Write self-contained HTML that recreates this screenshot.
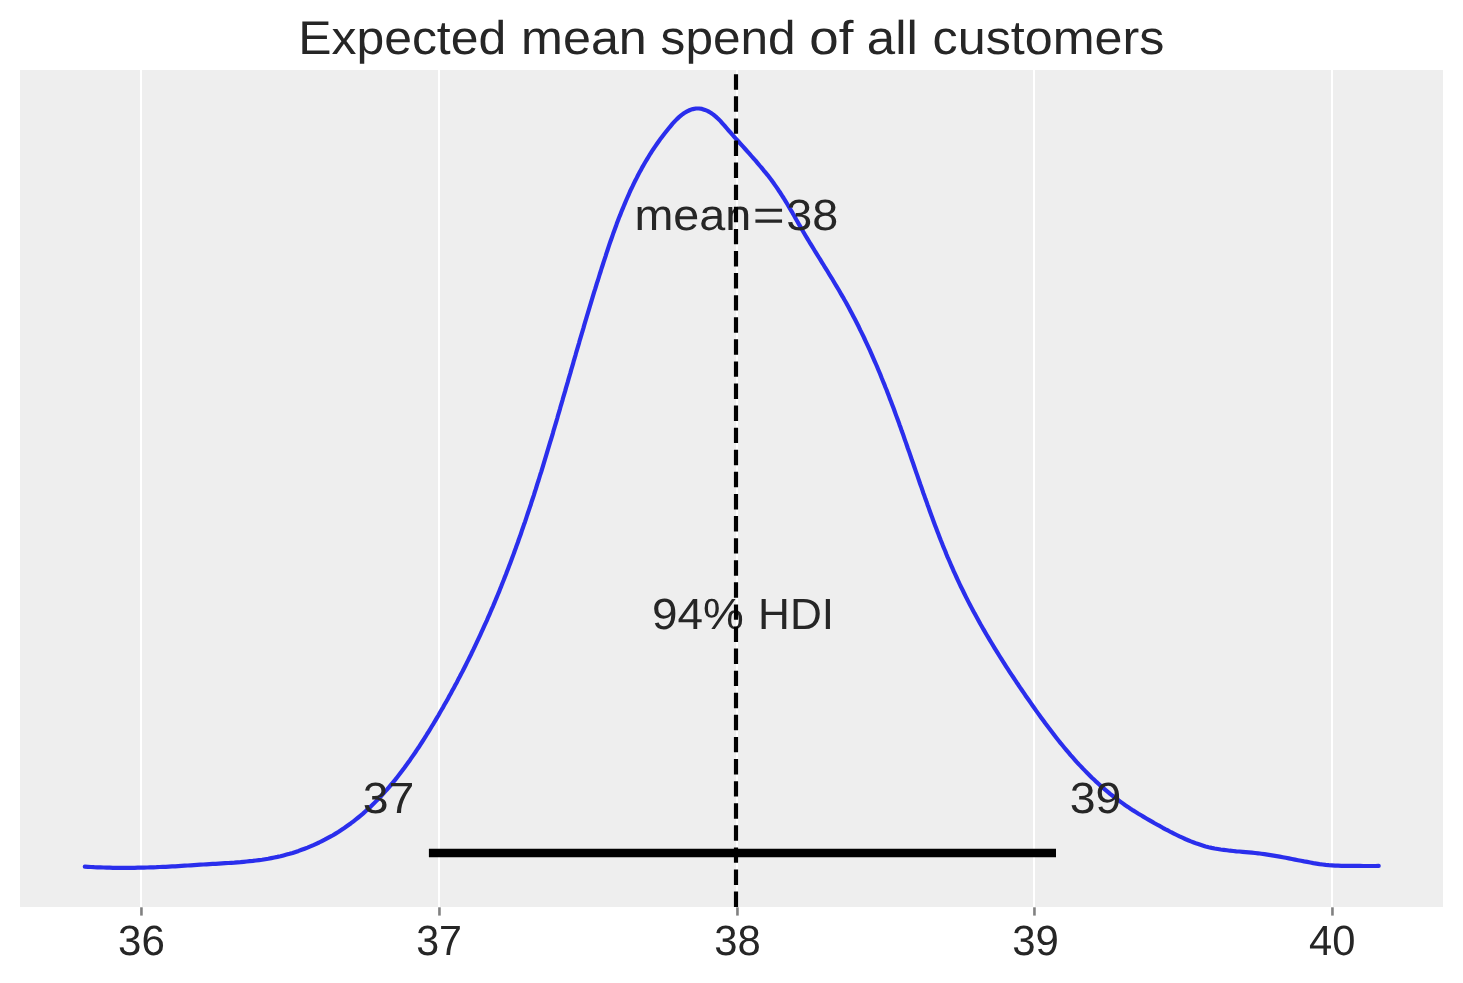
<!DOCTYPE html>
<html><head><meta charset="utf-8"><title>Expected mean spend of all customers</title><style>
html,body{margin:0;padding:0;background:#fff;width:1463px;height:983px;overflow:hidden}
svg{display:block;will-change:transform}
text{font-family:"Liberation Sans",sans-serif;fill:#262626;text-rendering:geometricPrecision}
</style></head><body>
<svg width="1463" height="983" viewBox="0 0 1463 983">
<rect x="0" y="0" width="1463" height="983" fill="#fff"/>
<rect x="20" y="70" width="1423" height="837" fill="#eeeeee"/>
<line x1="141" y1="70" x2="141" y2="907" stroke="#fff" stroke-width="2.0"/><line x1="439" y1="70" x2="439" y2="907" stroke="#fff" stroke-width="2.0"/><line x1="737" y1="70" x2="737" y2="907" stroke="#fff" stroke-width="2.0"/><line x1="1034" y1="70" x2="1034" y2="907" stroke="#fff" stroke-width="2.0"/><line x1="1332" y1="70" x2="1332" y2="907" stroke="#fff" stroke-width="2.0"/>
<line x1="141.45" y1="907.3" x2="141.45" y2="915.6" stroke="#808080" stroke-width="2.6"/><line x1="439.45" y1="907.3" x2="439.45" y2="915.6" stroke="#808080" stroke-width="2.6"/><line x1="737.45" y1="907.3" x2="737.45" y2="915.6" stroke="#808080" stroke-width="2.6"/><line x1="1034.45" y1="907.3" x2="1034.45" y2="915.6" stroke="#808080" stroke-width="2.6"/><line x1="1332.45" y1="907.3" x2="1332.45" y2="915.6" stroke="#808080" stroke-width="2.6"/>
<text font-size="42.3" transform="translate(118.12 954.9) scale(0.9952 1)">36</text><text font-size="42.3" transform="translate(416.16 954.9) scale(0.9738 1)">37</text><text font-size="42.3" transform="translate(714.13 954.9) scale(0.9883 1)">38</text><text font-size="42.3" transform="translate(1012.13 954.9) scale(0.991 1)">39</text><text font-size="42.3" transform="translate(1309.03 954.9) scale(0.9849 1)">40</text>
<path d="M84.8,866.6 L87.9,866.8 L91.0,867.0 L94.2,867.2 L97.3,867.3 L100.4,867.4 L103.5,867.5 L106.6,867.6 L109.8,867.7 L112.9,867.8 L116.0,867.8 L119.1,867.9 L122.2,867.9 L125.3,867.9 L128.4,867.9 L131.6,867.8 L134.7,867.8 L137.8,867.7 L140.9,867.7 L144.0,867.6 L147.1,867.5 L150.2,867.4 L153.4,867.3 L156.5,867.2 L159.6,867.0 L162.7,866.9 L165.8,866.8 L169.0,866.6 L172.1,866.4 L175.2,866.3 L178.3,866.1 L181.4,865.9 L184.6,865.7 L187.7,865.5 L190.8,865.3 L193.9,865.1 L197.1,864.9 L200.2,864.7 L203.3,864.5 L206.4,864.3 L209.5,864.1 L212.6,863.9 L215.7,863.8 L218.8,863.6 L222.0,863.4 L225.1,863.2 L228.2,863.0 L231.3,862.8 L234.4,862.6 L237.5,862.3 L240.5,862.1 L243.6,861.8 L246.7,861.5 L249.8,861.2 L252.9,860.9 L256.0,860.5 L259.0,860.1 L262.1,859.7 L265.2,859.2 L268.2,858.7 L271.3,858.1 L274.4,857.5 L277.4,856.9 L280.5,856.2 L283.5,855.4 L286.6,854.6 L289.6,853.8 L292.6,852.9 L295.6,851.9 L298.6,850.9 L301.6,849.8 L304.6,848.7 L307.5,847.6 L310.4,846.4 L313.4,845.1 L316.2,843.8 L319.1,842.5 L321.9,841.1 L324.7,839.7 L327.5,838.2 L330.3,836.7 L333.0,835.2 L335.6,833.6 L338.3,832.0 L340.9,830.3 L343.5,828.6 L346.0,826.8 L348.5,825.0 L351.0,823.2 L353.5,821.3 L355.9,819.4 L358.3,817.5 L360.6,815.6 L363.0,813.6 L365.3,811.5 L367.5,809.5 L369.8,807.4 L372.0,805.3 L374.2,803.1 L376.4,800.9 L378.5,798.7 L380.7,796.5 L382.8,794.2 L384.8,791.9 L386.9,789.6 L388.9,787.3 L390.9,784.9 L392.9,782.5 L394.9,780.1 L396.8,777.7 L398.7,775.3 L400.6,772.8 L402.5,770.3 L404.4,767.8 L406.2,765.3 L408.0,762.8 L409.9,760.2 L411.6,757.7 L413.4,755.1 L415.2,752.5 L416.9,749.9 L418.7,747.3 L420.4,744.6 L422.1,742.0 L423.8,739.4 L425.5,736.7 L427.1,734.0 L428.8,731.4 L430.4,728.7 L432.0,726.0 L433.7,723.3 L435.3,720.6 L436.9,717.9 L438.5,715.2 L440.0,712.5 L441.6,709.8 L443.2,707.1 L444.7,704.3 L446.3,701.6 L447.8,698.9 L449.3,696.1 L450.8,693.4 L452.3,690.6 L453.8,687.9 L455.3,685.1 L456.8,682.4 L458.2,679.6 L459.7,676.8 L461.1,674.0 L462.6,671.3 L464.0,668.5 L465.4,665.7 L466.8,662.9 L468.2,660.1 L469.6,657.3 L471.0,654.5 L472.3,651.7 L473.7,648.9 L475.0,646.1 L476.4,643.2 L477.7,640.4 L479.0,637.6 L480.3,634.8 L481.6,631.9 L482.9,629.1 L484.2,626.2 L485.5,623.4 L486.8,620.6 L488.0,617.7 L489.3,614.8 L490.5,612.0 L491.7,609.1 L493.0,606.3 L494.2,603.4 L495.4,600.5 L496.6,597.6 L497.8,594.8 L499.0,591.9 L500.1,589.0 L501.3,586.1 L502.4,583.2 L503.6,580.3 L504.7,577.4 L505.9,574.5 L507.0,571.6 L508.1,568.7 L509.2,565.8 L510.3,562.9 L511.4,560.0 L512.5,557.1 L513.6,554.1 L514.6,551.2 L515.7,548.3 L516.7,545.4 L517.8,542.5 L518.8,539.5 L519.9,536.6 L520.9,533.7 L521.9,530.7 L522.9,527.8 L523.9,524.8 L525.0,521.9 L526.0,518.9 L526.9,516.0 L527.9,513.0 L528.9,510.1 L529.9,507.1 L530.9,504.2 L531.8,501.2 L532.8,498.3 L533.8,495.3 L534.7,492.3 L535.7,489.4 L536.6,486.4 L537.5,483.4 L538.5,480.5 L539.4,477.5 L540.3,474.5 L541.3,471.6 L542.2,468.6 L543.1,465.6 L544.0,462.6 L544.9,459.6 L545.8,456.7 L546.7,453.7 L547.6,450.7 L548.5,447.7 L549.4,444.7 L550.3,441.7 L551.2,438.8 L552.1,435.8 L553.0,432.8 L553.8,429.8 L554.7,426.8 L555.6,423.8 L556.5,420.8 L557.4,417.8 L558.2,414.8 L559.1,411.8 L560.0,408.8 L560.8,405.8 L561.7,402.8 L562.6,399.8 L563.4,396.8 L564.3,393.9 L565.2,390.9 L566.0,387.9 L566.9,384.9 L567.8,381.9 L568.6,378.9 L569.5,375.9 L570.4,372.9 L571.2,369.9 L572.1,366.9 L573.0,363.9 L573.8,360.8 L574.7,357.8 L575.6,354.8 L576.4,351.8 L577.3,348.8 L578.2,345.8 L579.1,342.8 L579.9,339.8 L580.8,336.8 L581.7,333.8 L582.6,330.8 L583.5,327.9 L584.3,324.9 L585.2,321.9 L586.1,318.9 L587.0,315.9 L587.9,312.9 L588.8,309.9 L589.7,306.9 L590.6,303.9 L591.5,300.9 L592.4,297.9 L593.3,294.9 L594.2,291.9 L595.2,288.9 L596.1,285.9 L597.0,282.9 L598.0,280.0 L598.9,277.0 L599.8,274.0 L600.8,271.0 L601.7,268.0 L602.7,265.0 L603.6,262.1 L604.6,259.1 L605.6,256.1 L606.5,253.1 L607.5,250.2 L608.5,247.2 L609.5,244.2 L610.5,241.3 L611.6,238.3 L612.6,235.4 L613.6,232.4 L614.7,229.5 L615.8,226.6 L616.8,223.6 L617.9,220.7 L619.0,217.8 L620.2,214.9 L621.3,212.0 L622.5,209.1 L623.7,206.3 L624.9,203.4 L626.1,200.5 L627.3,197.7 L628.6,194.8 L629.8,192.0 L631.1,189.2 L632.5,186.4 L633.8,183.6 L635.2,180.8 L636.6,178.1 L638.0,175.3 L639.4,172.6 L640.9,169.9 L642.4,167.1 L643.9,164.5 L645.5,161.8 L647.1,159.1 L648.7,156.5 L650.3,153.8 L652.0,151.2 L653.7,148.6 L655.4,146.1 L657.2,143.5 L659.0,141.0 L660.8,138.4 L662.7,135.9 L664.6,133.5 L666.6,131.0 L668.6,128.5 L670.6,126.1 L672.6,123.7 L674.7,121.4 L676.9,119.1 L679.3,116.9 L681.7,114.9 L684.3,113.0 L687.1,111.4 L690.0,110.0 L692.9,109.1 L695.9,108.5 L699.0,108.5 L702.0,108.9 L705.0,109.9 L707.9,111.1 L710.7,112.7 L713.4,114.6 L715.8,116.6 L718.1,118.7 L720.3,120.9 L722.4,123.3 L724.5,125.6 L726.5,128.0 L728.5,130.3 L730.6,132.7 L732.6,135.0 L734.7,137.4 L736.8,139.7 L738.9,142.0 L741.0,144.4 L743.1,146.7 L745.2,149.0 L747.3,151.4 L749.4,153.7 L751.4,156.0 L753.5,158.4 L755.6,160.7 L757.6,163.1 L759.6,165.5 L761.7,167.9 L763.6,170.3 L765.6,172.7 L767.6,175.1 L769.5,177.6 L771.4,180.0 L773.2,182.5 L775.0,185.1 L776.8,187.6 L778.5,190.2 L780.3,192.8 L781.9,195.4 L783.6,198.0 L785.2,200.6 L786.8,203.3 L788.4,206.0 L790.0,208.7 L791.6,211.3 L793.1,214.0 L794.7,216.7 L796.2,219.5 L797.8,222.2 L799.3,224.9 L800.9,227.6 L802.4,230.3 L804.0,233.0 L805.6,235.7 L807.2,238.3 L808.8,241.0 L810.4,243.7 L812.1,246.4 L813.7,249.0 L815.3,251.7 L817.0,254.4 L818.6,257.0 L820.3,259.7 L821.9,262.3 L823.6,265.0 L825.2,267.7 L826.9,270.3 L828.5,273.0 L830.1,275.7 L831.8,278.3 L833.4,281.0 L835.0,283.7 L836.6,286.3 L838.2,289.0 L839.8,291.7 L841.3,294.4 L842.9,297.1 L844.4,299.8 L846.0,302.5 L847.5,305.3 L849.0,308.0 L850.4,310.7 L851.9,313.5 L853.3,316.2 L854.8,319.0 L856.2,321.7 L857.6,324.5 L859.0,327.3 L860.3,330.1 L861.7,332.9 L863.1,335.7 L864.4,338.5 L865.7,341.3 L867.0,344.1 L868.3,346.9 L869.6,349.7 L870.9,352.6 L872.1,355.4 L873.4,358.3 L874.6,361.1 L875.9,364.0 L877.1,366.8 L878.3,369.7 L879.5,372.5 L880.7,375.4 L881.8,378.3 L883.0,381.2 L884.2,384.1 L885.3,387.0 L886.5,389.8 L887.6,392.7 L888.7,395.6 L889.8,398.6 L891.0,401.5 L892.1,404.4 L893.2,407.3 L894.3,410.2 L895.3,413.1 L896.4,416.1 L897.5,419.0 L898.6,421.9 L899.6,424.9 L900.7,427.8 L901.7,430.8 L902.8,433.7 L903.8,436.7 L904.8,439.6 L905.9,442.6 L906.9,445.5 L907.9,448.5 L909.0,451.4 L910.0,454.4 L911.0,457.3 L912.0,460.3 L913.1,463.3 L914.1,466.2 L915.1,469.2 L916.1,472.1 L917.2,475.1 L918.2,478.1 L919.2,481.0 L920.2,484.0 L921.3,486.9 L922.3,489.9 L923.3,492.9 L924.4,495.8 L925.4,498.8 L926.5,501.7 L927.5,504.7 L928.6,507.6 L929.6,510.5 L930.7,513.5 L931.8,516.4 L932.8,519.3 L933.9,522.3 L935.0,525.2 L936.1,528.1 L937.2,531.0 L938.4,534.0 L939.5,536.9 L940.6,539.8 L941.8,542.7 L942.9,545.6 L944.1,548.5 L945.3,551.3 L946.4,554.2 L947.6,557.1 L948.9,560.0 L950.1,562.8 L951.3,565.7 L952.6,568.5 L953.8,571.4 L955.1,574.2 L956.4,577.0 L957.7,579.8 L959.0,582.6 L960.3,585.5 L961.7,588.2 L963.1,591.0 L964.4,593.8 L965.8,596.6 L967.2,599.4 L968.6,602.1 L970.1,604.9 L971.5,607.6 L973.0,610.4 L974.4,613.1 L975.9,615.8 L977.4,618.5 L978.9,621.3 L980.4,624.0 L982.0,626.7 L983.5,629.4 L985.1,632.1 L986.6,634.7 L988.2,637.4 L989.8,640.1 L991.4,642.8 L993.0,645.4 L994.6,648.1 L996.2,650.7 L997.9,653.4 L999.5,656.0 L1001.2,658.7 L1002.9,661.3 L1004.5,663.9 L1006.2,666.6 L1007.9,669.2 L1009.6,671.8 L1011.3,674.4 L1013.1,677.0 L1014.8,679.6 L1016.5,682.2 L1018.3,684.8 L1020.0,687.4 L1021.8,690.0 L1023.6,692.6 L1025.3,695.2 L1027.1,697.7 L1028.9,700.3 L1030.7,702.9 L1032.5,705.5 L1034.3,708.0 L1036.1,710.6 L1037.9,713.1 L1039.8,715.7 L1041.6,718.2 L1043.5,720.8 L1045.3,723.3 L1047.2,725.8 L1049.1,728.3 L1051.0,730.8 L1052.9,733.3 L1054.8,735.8 L1056.7,738.2 L1058.7,740.7 L1060.6,743.1 L1062.6,745.5 L1064.6,748.0 L1066.6,750.4 L1068.6,752.7 L1070.6,755.1 L1072.7,757.4 L1074.8,759.8 L1076.8,762.1 L1078.9,764.4 L1081.1,766.6 L1083.2,768.9 L1085.4,771.1 L1087.5,773.3 L1089.7,775.5 L1091.9,777.7 L1094.2,779.8 L1096.4,781.9 L1098.7,784.0 L1101.0,786.1 L1103.3,788.1 L1105.7,790.1 L1108.1,792.1 L1110.4,794.1 L1112.9,796.0 L1115.3,797.9 L1117.8,799.8 L1120.3,801.6 L1122.8,803.4 L1125.3,805.2 L1127.9,806.9 L1130.5,808.7 L1133.1,810.4 L1135.7,812.0 L1138.4,813.7 L1141.1,815.3 L1143.7,816.9 L1146.4,818.5 L1149.2,820.1 L1151.9,821.6 L1154.6,823.2 L1157.3,824.7 L1160.1,826.2 L1162.8,827.8 L1165.6,829.3 L1168.4,830.7 L1171.1,832.2 L1173.9,833.6 L1176.7,835.0 L1179.5,836.4 L1182.4,837.7 L1185.2,839.0 L1188.1,840.2 L1190.9,841.4 L1193.8,842.5 L1196.7,843.6 L1199.7,844.6 L1202.6,845.5 L1205.6,846.4 L1208.6,847.2 L1211.6,847.9 L1214.6,848.5 L1217.7,849.0 L1220.7,849.5 L1223.8,849.9 L1226.9,850.3 L1230.0,850.7 L1233.2,851.0 L1236.3,851.3 L1239.4,851.5 L1242.6,851.8 L1245.7,852.1 L1248.8,852.4 L1251.9,852.7 L1255.1,853.0 L1258.2,853.3 L1261.3,853.7 L1264.4,854.1 L1267.4,854.6 L1270.5,855.1 L1273.6,855.6 L1276.6,856.1 L1279.7,856.6 L1282.8,857.2 L1285.8,857.8 L1288.9,858.4 L1291.9,859.0 L1295.0,859.6 L1298.0,860.2 L1301.1,860.8 L1304.1,861.4 L1307.2,861.9 L1310.3,862.5 L1313.3,863.1 L1316.4,863.6 L1319.5,864.1 L1322.6,864.5 L1325.7,864.9 L1328.8,865.2 L1331.9,865.4 L1335.0,865.6 L1338.1,865.7 L1341.3,865.8 L1344.4,865.8 L1347.5,865.9 L1350.6,865.9 L1353.7,865.9 L1356.9,865.9 L1360.0,865.9 L1363.1,866.0 L1366.2,866.0 L1369.3,866.0 L1372.5,866.0 L1375.6,866.0 L1378.7,865.9" fill="none" stroke="#2a2eec" stroke-width="4.17" stroke-linecap="round" stroke-linejoin="round"/>
<line x1="428.9" y1="853.0" x2="1056" y2="853.0" stroke="#000" stroke-width="8.33"/>
<text font-size="43.6" transform="translate(362.79 813.0) scale(1.0645 1)">37</text>
<text font-size="43.6" transform="translate(1069.79 813.0) scale(1.0645 1)">39</text>
<text font-size="43.6" transform="translate(652.09 628.9) scale(1.052 1)">94%</text><text font-size="43.6" transform="translate(758.05 628.9) scale(1.0128 1)">HDI</text>
<text font-size="43.6" transform="translate(634.45 229.8) scale(1.0711 1)">mean</text><text font-size="43.6" transform="translate(752.67 229.8) scale(1.2568 1)">=</text><text font-size="43.6" transform="translate(786.27 229.8) scale(1.0721 1)">38</text>
<line x1="736.0" y1="907" x2="736.0" y2="70" stroke="#000" stroke-width="4.17" stroke-dasharray="15.42 6.67"/>
<text font-size="47.4" transform="translate(298.17 53.6) scale(1.053 1)">Expected</text><text font-size="47.4" transform="translate(521.09 53.6) scale(1.0603 1)">mean</text><text font-size="47.4" transform="translate(660.6 53.6) scale(1.0461 1)">spend</text><text font-size="47.4" transform="translate(809.3 53.6) scale(1.1164 1)">of</text><text font-size="47.4" transform="translate(866.85 53.6) scale(1.0765 1)">all</text><text font-size="47.4" transform="translate(932.58 53.6) scale(1.0602 1)">customers</text>
</svg>
</body></html>
